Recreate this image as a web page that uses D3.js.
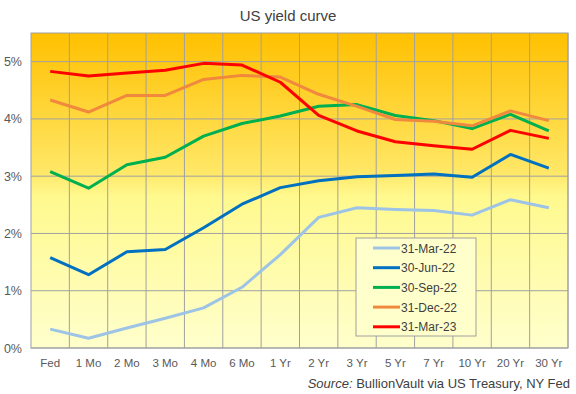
<!DOCTYPE html>
<html>
<head>
<meta charset="utf-8">
<script src="https://cdn.jsdelivr.net/npm/d3@7"></script>
<style>
  body { margin: 0; background: #fff; }
  svg { font-family: Arial, "Liberation Sans", sans-serif; }
</style>
</head>
<body>
<svg id="canvas" width="576" height="394"></svg>
<script>
let maturities = ['Fed', '1 Mo', '2 Mo', '3 Mo', '4 Mo', '6 Mo', '1 Yr', '2 Yr', '3 Yr', '5 Yr', '7 Yr', '10 Yr', '20 Yr', '30 Yr']
let seriesNames = ['31-Mar-22', '30-Jun-22', '30-Sep-22', '31-Dec-22', '31-Mar-23']
let mar22 = [0.33, 0.17, 0.35, 0.52, 0.70, 1.06, 1.63, 2.28, 2.45, 2.42, 2.40, 2.32, 2.59, 2.45]
let jun22 = [1.58, 1.28, 1.68, 1.72, 2.10, 2.51, 2.80, 2.92, 2.99, 3.01, 3.04, 2.98, 3.38, 3.14]
let sep22 = [3.08, 2.79, 3.20, 3.33, 3.70, 3.92, 4.05, 4.22, 4.25, 4.06, 3.97, 3.83, 4.08, 3.79]
let dec22 = [4.33, 4.12, 4.41, 4.41, 4.69, 4.76, 4.73, 4.43, 4.22, 3.99, 3.96, 3.88, 4.14, 3.97]
let mar23 = [4.83, 4.75, 4.80, 4.85, 4.97, 4.94, 4.64, 4.06, 3.79, 3.60, 3.53, 3.47, 3.80, 3.66]
let yTicks = [0, 1, 2, 3, 4, 5]

let seriesValues = [mar22, jun22, sep22, dec22, mar23]
let colors = ['#9dc3e6', '#0070c0', '#00b050', '#f0883e', '#ff0000']

let canvas = d3.select('#canvas')
let plotLeft = 31, plotRight = 568, plotTop = 33, plotBottom = 348

let x = d3.scaleBand().domain(maturities).range([plotLeft, plotRight])
let y = d3.scaleLinear().domain([0, 5.5]).range([plotBottom, plotTop])

// background gradient
let grad = canvas.append('defs').append('linearGradient')
    .attr('id', 'bg').attr('x1', 0).attr('y1', 0).attr('x2', 0).attr('y2', 1)
grad.append('stop').attr('offset', '0%').attr('stop-color', '#ffc000')
grad.append('stop').attr('offset', '44%').attr('stop-color', '#ffe766')
grad.append('stop').attr('offset', '52%').attr('stop-color', '#fff98e')
grad.append('stop').attr('offset', '100%').attr('stop-color', '#ffffcc')

canvas.append('rect')
    .attr('x', plotLeft).attr('y', plotTop)
    .attr('width', plotRight - plotLeft).attr('height', plotBottom - plotTop)
    .attr('fill', 'url(#bg)')

// grid
canvas.selectAll('.hgrid')
    .data(yTicks)
    .enter()
    .append('line')
    .attr('x1', plotLeft).attr('x2', plotRight)
    .attr('y1', (d) => y(d)).attr('y2', (d) => y(d))
    .attr('stroke', '#a0a0a0').attr('stroke-width', 1)

canvas.selectAll('.vgrid')
    .data(maturities)
    .enter()
    .append('line')
    .attr('x1', (d) => x(d) + x.bandwidth()).attr('x2', (d) => x(d) + x.bandwidth())
    .attr('y1', plotTop).attr('y2', plotBottom)
    .attr('stroke', '#a0a0a0').attr('stroke-width', 1)

canvas.append('rect')
    .attr('x', plotLeft).attr('y', plotTop)
    .attr('width', plotRight - plotLeft).attr('height', plotBottom - plotTop)
    .attr('fill', 'none').attr('stroke', '#a0a0a0')

// axis labels
canvas.selectAll('.ylab')
    .data(yTicks)
    .enter()
    .append('text')
    .text((d) => d + '%')
    .attr('x', 22).attr('y', (d) => y(d) + 4.5)
    .attr('text-anchor', 'end')
    .attr('font-size', 12.5).attr('fill', '#595959')

canvas.selectAll('.xlab')
    .data(maturities)
    .enter()
    .append('text')
    .text((d) => d)
    .attr('x', (d) => x(d) + x.bandwidth() / 2).attr('y', 367)
    .attr('text-anchor', 'middle')
    .attr('font-size', 11.5).attr('fill', '#595959')

// lines
let line = d3.line()
    .x((d, i) => x(maturities[i]) + x.bandwidth() / 2)
    .y((d) => y(d))

seriesValues.forEach((vals, k) => {
    canvas.append('path')
        .attr('d', line(vals))
        .attr('fill', 'none')
        .attr('stroke', colors[k])
        .attr('stroke-width', 3)
        .attr('stroke-linejoin', 'round')
})

// legend
let lg = canvas.append('g').attr('transform', 'translate(356, 238)')
lg.append('rect')
    .attr('width', 120).attr('height', 98)
    .attr('fill', '#ffffcc').attr('stroke', '#a0a0a0')
seriesNames.forEach((name, k) => {
    let ly = 10 + k * 19.7
    lg.append('line')
        .attr('x1', 17).attr('x2', 44)
        .attr('y1', ly).attr('y2', ly)
        .attr('stroke', colors[k]).attr('stroke-width', 3)
    lg.append('text')
        .text(name)
        .attr('x', 45).attr('y', ly + 4.5)
        .attr('font-size', 12).attr('fill', '#404040')
})

// title and source
canvas.append('text')
    .text('US yield curve')
    .attr('x', 288).attr('y', 21)
    .attr('text-anchor', 'middle')
    .attr('font-size', 15).attr('fill', '#404040')

let src = canvas.append('text')
    .attr('x', 570).attr('y', 388)
    .attr('text-anchor', 'end')
    .attr('font-size', 13).attr('fill', '#404040')
src.append('tspan').attr('font-style', 'italic').text('Source:')
src.append('tspan').text(' BullionVault via US Treasury, NY Fed')
</script>
</body>
</html>
